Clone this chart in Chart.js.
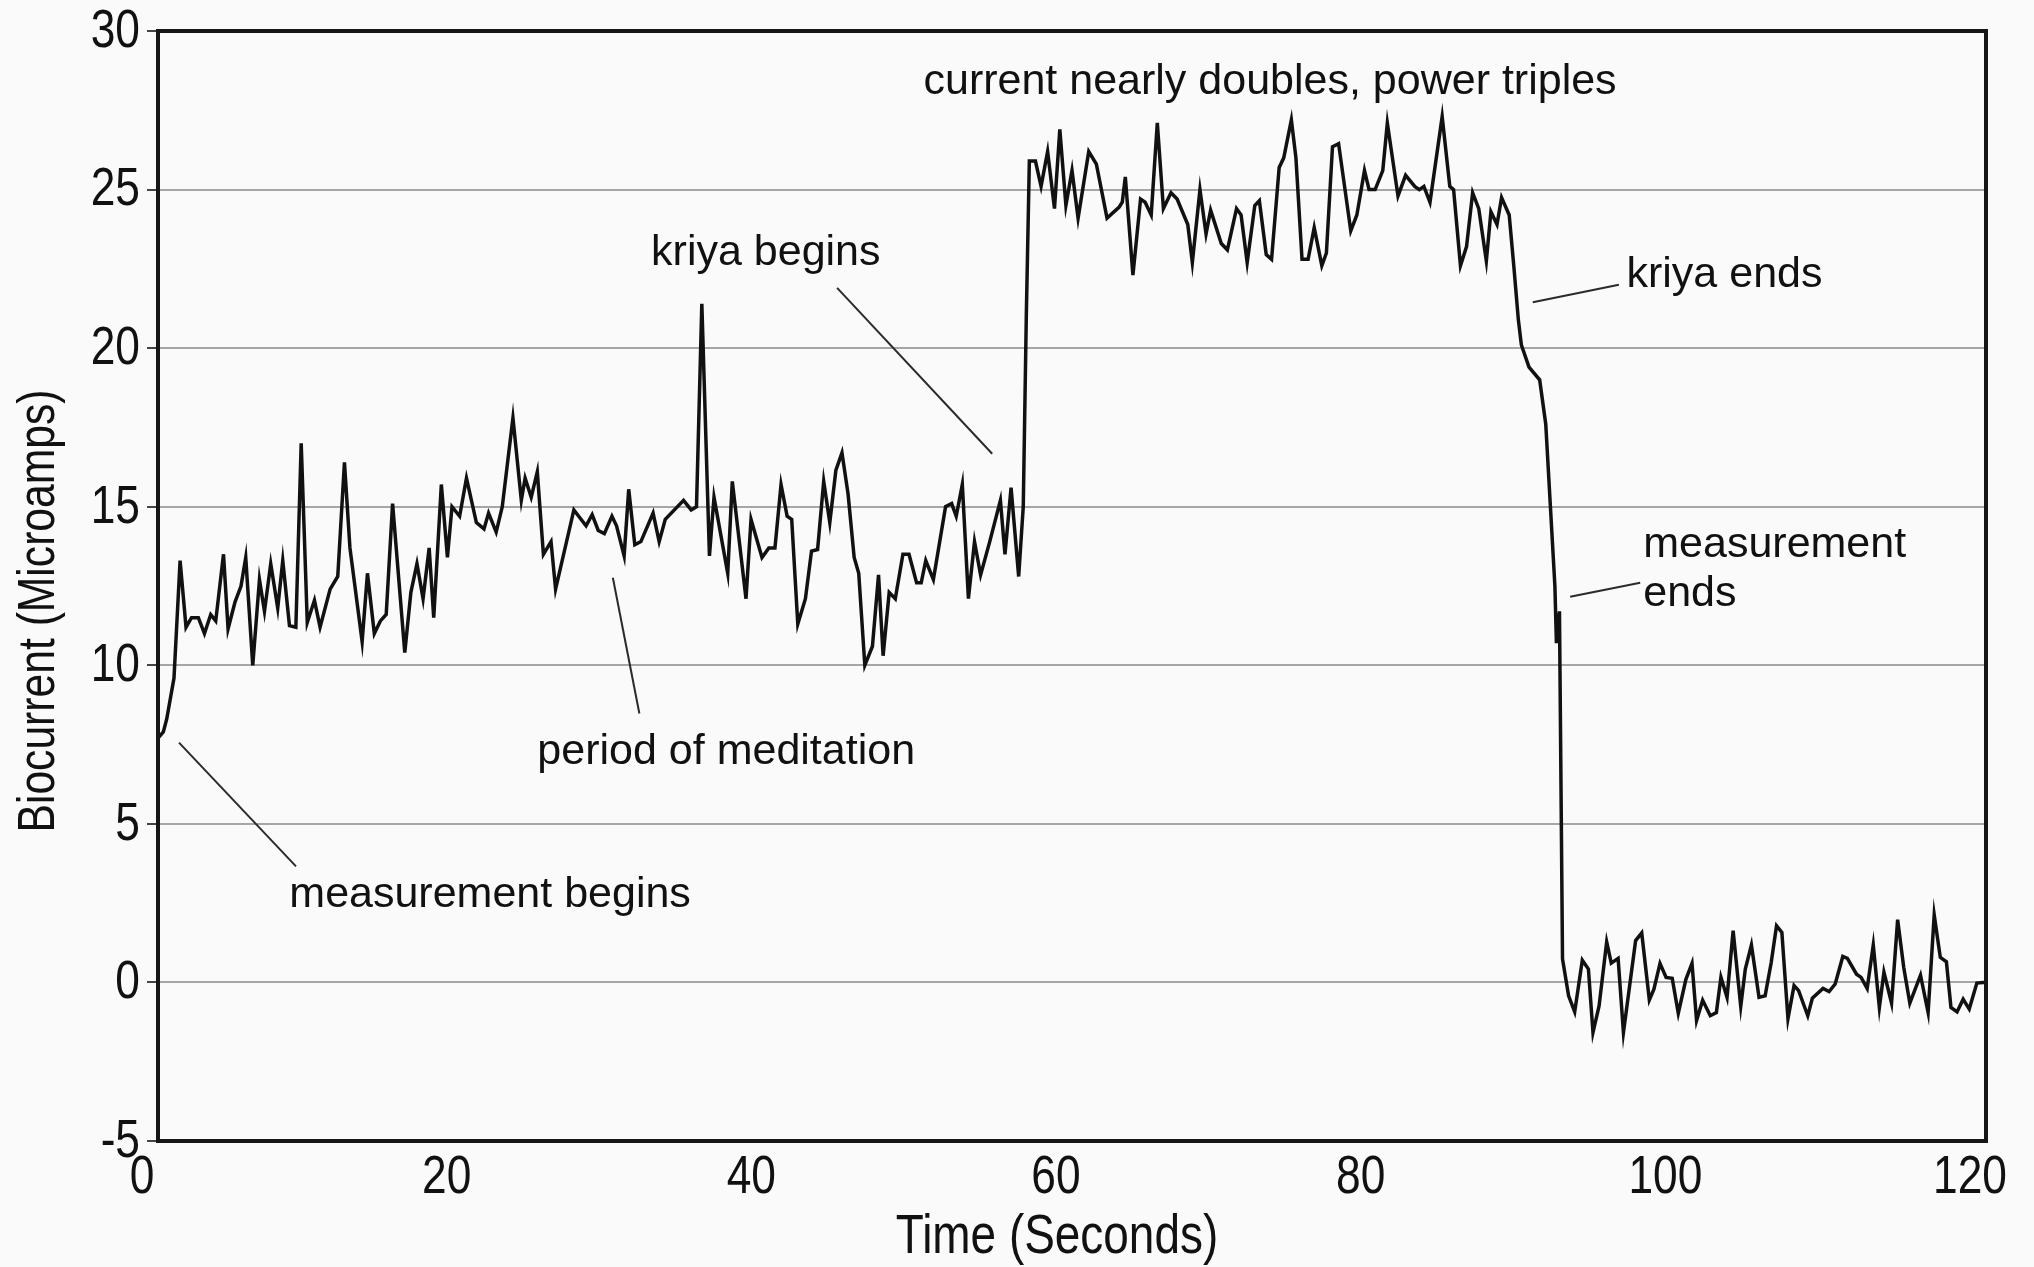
<!DOCTYPE html>
<html>
<head>
<meta charset="utf-8">
<script src="https://cdn.jsdelivr.net/npm/chart.js@4.4.1/dist/chart.umd.min.js"></script>
<style>
  html, body { margin: 0; padding: 0; background: #fafafa; }
  canvas { display: block; }
</style>
</head>
<body>
<canvas id="myChart" width="2034" height="1267"></canvas>
<script>
// biocurrent trace
var seconds = [
  0, 0.35, 0.57, 1.05, 1.45, 1.84, 2.2, 2.65, 3.05, 3.46, 3.79, 4.3, 4.6, 5.06, 5.45, 5.76, 6.22, 6.66, 6.99, 7.4,
  7.86, 8.19, 8.63, 9.05, 9.4, 9.8, 10.27, 10.64, 11.3, 11.8, 12.24, 12.6, 13.4, 13.75, 14.2, 14.6, 14.98, 15.4, 16.2, 16.6,
  17.0, 17.4, 17.8, 18.1, 18.6, 19.0, 19.3, 19.8, 20.25,
  20.9, 21.4, 21.7, 22.2, 22.6, 23.3, 23.85, 24.1, 24.5, 24.9, 25.3, 25.8, 26.1, 27.3, 28.1, 28.5, 28.9, 29.3, 29.8, 30.1,
  30.6, 30.9, 31.3, 31.7, 32.5, 32.9, 33.3, 34.5, 35.0, 35.35, 35.7, 36.2, 36.5, 37.4, 37.7, 38.6, 38.93, 39.65,
  40.1, 40.5, 40.9, 41.3, 41.6, 42.0, 42.5, 42.9, 43.3, 43.7, 44.1, 44.5, 44.9, 45.3, 45.7, 46.0, 46.4, 46.9, 47.3, 47.6,
  48.0, 48.4, 48.9, 49.3, 49.8, 50.1, 50.4, 50.9, 51.7, 52.1, 52.4, 52.8, 53.2, 53.6, 54.0, 54.6, 55.3, 55.6, 56.0, 56.5,
  56.8, 57.0, 57.2,
  57.6, 57.97, 58.4, 58.85, 59.2, 59.6, 60.0, 60.4, 61.1, 61.6, 62.3, 63.1, 63.3, 63.5, 64.0, 64.5, 64.8, 65.2, 65.6, 66.0,
  66.5, 66.9, 67.6, 67.9, 68.4, 68.8, 69.1, 69.8, 70.2, 70.8, 71.1, 71.5, 72.0, 72.3, 72.75, 73.1, 73.6, 73.9, 74.4, 74.7,
  75.1, 75.5, 75.9, 76.4,
  76.7, 77.1, 77.5, 78.3, 78.7, 79.2, 79.5, 79.9, 80.4, 80.7, 81.4, 81.9, 82.5, 82.8, 83.1, 83.5, 84.3, 84.8, 85.05, 85.5,
  85.9, 86.3, 86.7, 87.2, 87.5, 87.9, 88.2, 88.7, 89.0, 89.3, 89.5, 90.0, 90.7, 91.1, 91.4, 91.7, 91.8, 92.0, 92.2,
  92.6, 93.0, 93.5, 93.9, 94.2, 94.6, 95.1, 95.4, 95.85, 96.2, 97.0, 97.4, 97.9, 98.2, 98.6, 99.0, 99.4, 99.8, 100.3, 100.7,
  101.0, 101.4, 101.9, 102.3, 102.6, 103.0, 103.4, 103.9, 104.2, 104.6, 105.1, 105.5, 105.9, 106.25, 106.6, 107.0, 107.4, 107.7, 108.3, 108.6,
  109.3, 109.7, 110.1, 110.6, 110.9, 111.5, 111.8, 112.2, 112.6, 113.0, 113.3, 113.8, 114.2, 114.6, 115.0, 115.7, 116.2, 116.6, 117.0, 117.4,
  117.7, 118.1, 118.5, 118.9, 119.4, 119.8, 120
];
var microamps = [
  7.7, 7.9, 8.3, 9.6, 13.3, 11.2, 11.5, 11.5, 11.0, 11.6, 11.4, 13.5, 11.15, 12.0, 12.5, 13.4, 10.0, 12.7, 11.7, 13.2,
  11.8, 13.3, 11.25, 11.2, 17.0, 11.35, 12.05, 11.2, 12.4, 12.8, 16.4, 13.7, 10.75, 12.9, 11.0, 11.4, 11.6, 15.1, 10.4, 12.3,
  13.2, 12.1, 13.7, 11.5, 15.7, 13.4, 15.0, 14.7, 15.9,
  14.5, 14.3, 14.8, 14.2, 15.0, 17.8, 15.2, 15.9, 15.3, 16.1, 13.5, 13.9, 12.4, 14.9, 14.4, 14.75, 14.25, 14.15, 14.7, 14.4,
  13.45, 15.55, 13.8, 13.9, 14.8, 13.9, 14.6, 15.2, 14.9, 15.0, 21.4, 13.45, 15.3, 12.9, 15.8, 12.1, 14.6, 13.4,
  13.7, 13.7, 15.7, 14.7, 14.6, 11.3, 12.1, 13.6, 13.65, 15.8, 14.5, 16.15, 16.7, 15.4, 13.4, 12.9, 10.0, 10.6, 12.85, 10.3,
  12.3, 12.1, 13.5, 13.5, 12.6, 12.6, 13.3, 12.7, 15.0, 15.1, 14.7, 15.7, 12.1, 13.9, 12.85, 13.9, 15.2, 13.5, 15.6, 12.8,
  15.0, 21.0, 25.9,
  25.9, 25.1, 26.2, 24.4, 26.9, 24.5, 25.6, 24.1, 26.2, 25.8, 24.1, 24.45, 24.6, 25.4, 22.3, 24.7, 24.6, 24.2, 27.1, 24.4,
  24.9, 24.7, 23.9, 22.7, 25.0, 23.6, 24.35, 23.3, 23.1, 24.4, 24.2, 22.7, 24.5, 24.65, 22.95, 22.8, 25.7, 26.0, 27.2, 26.0,
  22.8, 22.8, 23.8, 22.6,
  23.0, 26.35, 26.45, 23.7, 24.2, 25.6, 25.0, 25.0, 25.6, 27.1, 24.8, 25.45, 25.1, 25.0, 25.1, 24.6, 27.3, 25.1, 25.0, 22.6,
  23.2, 24.9, 24.4, 22.75, 24.3, 23.9, 24.75, 24.2, 22.6, 20.9, 20.1, 19.4, 19.0, 17.6, 15.05, 12.5, 10.7, 11.7, 0.74,
  -0.42, -0.93, 0.7, 0.42, -1.58, -0.74, 1.28, 0.61, 0.76, -1.58, 1.32, 1.56, -0.55, -0.21, 0.6, 0.16, 0.13, -0.97, 0.1, 0.6,
  -1.2, -0.56, -1.05, -0.95, 0.16, -0.47, 1.63, -0.76, 0.42, 1.18, -0.47, -0.42, 0.63, 1.79, 1.58, -1.14, -0.1, -0.26, -1.05, -0.5,
  -0.19, -0.29, -0.05, 0.82, 0.76, 0.26, 0.16, -0.19, 1.18, -0.79, 0.32, -0.65, 1.98, 0.47, -0.65, 0.23, -0.95, 2.13, 0.79, 0.65,
  -0.79, -0.93, -0.53, -0.84, -0.02, 0.0, 0.0
];
var xTicks = [0, 20, 40, 60, 80, 100, 120];
var yTicks = [-5, 0, 5, 10, 15, 20, 25, 30];

var sans = "'Liberation Sans', Arial, sans-serif";

// callouts, anchored in data units (seconds, microamps)
var notes = [
  { lines: ['current nearly doubles, power triples'], at: [73.0, 28.4], align: 'center' },
  { lines: ['kriya begins'], at: [39.9, 23.0], align: 'center', leader: [[44.58, 21.9], [54.76, 16.67]] },
  { lines: ['kriya ends'], at: [96.4, 22.3], align: 'left', leader: [[90.25, 21.45], [95.9, 22.0]] },
  { lines: ['measurement', 'ends'], at: [97.5, 13.8], align: 'left', leader: [[92.7, 12.16], [97.3, 12.6]] },
  { lines: ['period of meditation'], at: [37.3, 7.25], align: 'center', leader: [[29.86, 12.76], [31.6, 8.48]] },
  { lines: ['measurement begins'], at: [21.8, 2.75], align: 'center', leader: [[1.38, 7.56], [9.06, 3.66]] }
];

// narrow type: regular sans squeezed sideways
function narrowText(c, text, x, y, size, align, angle) {
  c.save();
  c.translate(x, y);
  if (angle) c.rotate(angle);
  c.scale(0.82, 1);
  c.font = size + 'px ' + sans;
  c.textAlign = align;
  c.textBaseline = 'middle';
  c.fillText(text, 0, 0);
  c.restore();
}

var paper = {
  id: 'paper',
  beforeDraw: function(chart) {
    var c = chart.ctx;
    c.save();
    c.fillStyle = '#fafafa';
    c.fillRect(0, 0, chart.width, chart.height);
    c.restore();
  }
};

var frame = {
  id: 'frame',
  afterDatasetsDraw: function(chart) {
    var c = chart.ctx, a = chart.chartArea;
    c.save();
    c.strokeStyle = '#161616';
    c.lineWidth = 4;
    c.strokeRect(a.left, a.top, a.right - a.left, a.bottom - a.top);
    c.restore();
  }
};

var labels = {
  id: 'labels',
  afterDraw: function(chart) {
    var c = chart.ctx, xs = chart.scales.x, ys = chart.scales.y, a = chart.chartArea;
    c.save();
    c.fillStyle = '#111';
    xTicks.forEach(function(v) {
      narrowText(c, String(v), xs.getPixelForValue(v) - 16, a.bottom + 37, 54, 'center');
    });
    yTicks.forEach(function(v) {
      narrowText(c, String(v), a.left - 18, ys.getPixelForValue(v) + 1, 54, 'right');
    });
    narrowText(c, 'Time (Seconds)', 1057, 1238, 56, 'center');
    narrowText(c, 'Biocurrent (Microamps)', 40, 611, 52, 'center', -Math.PI / 2);

    notes.forEach(function(n) {
      if (n.leader) {
        c.strokeStyle = '#2a2a2a';
        c.lineWidth = 2;
        c.beginPath();
        c.moveTo(xs.getPixelForValue(n.leader[0][0]), ys.getPixelForValue(n.leader[0][1]));
        c.lineTo(xs.getPixelForValue(n.leader[1][0]), ys.getPixelForValue(n.leader[1][1]));
        c.stroke();
      }
      c.font = '43px ' + sans;
      c.textAlign = n.align;
      c.textBaseline = 'middle';
      var px = xs.getPixelForValue(n.at[0]);
      var py = ys.getPixelForValue(n.at[1]);
      n.lines.forEach(function(line, i) {
        c.fillText(line, px, py + i * 49);
      });
    });
    c.restore();
  }
};

var ctx = document.getElementById('myChart').getContext('2d');
var myChart = new Chart(ctx, {
  type: 'line',
  data: {
    datasets: [{
      label: 'Biocurrent',
      data: seconds.map(function(t, i) { return { x: t, y: microamps[i] }; }),
      borderColor: '#111',
      borderWidth: 3.5,
      pointRadius: 0,
      tension: 0,
      fill: false
    }]
  },
  options: {
    responsive: false,
    devicePixelRatio: 1,
    animation: false,
    layout: { padding: { top: 31, right: 48, left: 0, bottom: 0 } },
    plugins: {
      legend: { display: false },
      tooltip: { enabled: false }
    },
    scales: {
      x: {
        type: 'linear',
        min: 0,
        max: 120,
        afterBuildTicks: function(s) { s.ticks = xTicks.map(function(v) { return { value: v }; }); },
        afterFit: function(s) { s.height = 126; },
        grid: { display: false },
        border: { display: false },
        ticks: { display: false }
      },
      y: {
        min: -5,
        max: 30,
        afterBuildTicks: function(s) { s.ticks = yTicks.map(function(v) { return { value: v }; }); },
        afterFit: function(s) { s.width = 158; },
        grid: { color: '#a6a6a6', lineWidth: 2, tickLength: 11, tickColor: '#444' },
        border: { display: false },
        ticks: { display: false }
      }
    }
  },
  plugins: [paper, frame, labels]
});
</script>
</body>
</html>
